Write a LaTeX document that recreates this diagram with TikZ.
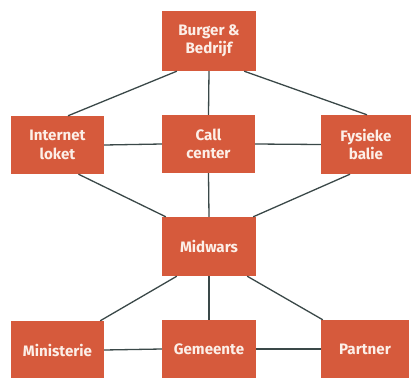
\documentclass[tikz,border=0pt]{standalone}
\usepackage{fontspec}
\setmainfont{Fira Sans}
\usetikzlibrary{calc}
\definecolor{boxred}{HTML}{D65A3C}
\definecolor{boxtext}{HTML}{FCEFE8}
\definecolor{linec}{HTML}{3A4848}
\begin{document}
\begin{tikzpicture}[x=1bp,y=-1bp,
  box/.style={rectangle, fill=boxred, draw=none, text=boxtext, align=center,
    font=\fontsize{15.2}{18.5}\selectfont\bfseries, inner sep=0pt},
  conn/.style={draw=linec, line width=1.3bp}]
\useasboundingbox (0,0) rectangle (411,378);
\begin{scope}
\clip (0,0) rectangle (411,378);
\node[box, minimum width=94bp, minimum height=60bp] (burger) at (209,41) {Burger \&\\Bedrijf};
\node[box, minimum width=93bp, minimum height=58bp] (internet) at (57.5,145) {Internet\\loket};
\node[box, minimum width=93bp, minimum height=58bp] (call) at (208.5,144) {Call\\center};
\node[box, minimum width=90bp, minimum height=59bp] (fysieke) at (366,144.5) {Fysieke\\balie};
\node[box, minimum width=94bp, minimum height=59bp] (midwars) at (209,246.5) {Midwars};
\node[box, minimum width=93bp, minimum height=58bp] (ministerie) at (57.5,350) {Ministerie};
\node[box, minimum width=94bp, minimum height=58bp] (gemeente) at (209,349) {Gemeente};
\node[box, minimum width=88bp, minimum height=58bp] (partner) at (365,349) {Partner};
\draw[conn] ($(burger.south west)+(15,0)$) -- ($(internet.north)+(10.5,0)$);
\draw[conn] ($(burger.south east)+(-12,0)$) -- ($(fysieke.north)+(1,0)$);
\draw[conn] (burger.south) -- (call.north);
\draw[conn] (internet.east) -- (call.west);
\draw[conn] (call.east) -- (fysieke.west);
\draw[conn] ($(internet.south)+(21,0)$) -- ($(midwars.north west)+(4,0)$);
\draw[conn] ($(fysieke.south)+(-16,0)$) -- ($(midwars.north east)+(-3,0)$);
\draw[conn] (call.south) -- (midwars.north);
\draw[conn] ($(midwars.south west)+(15,0)$) -- ($(ministerie.north east)+(-4,0)$);
\draw[conn] ($(midwars.south east)+(-9,0)$) -- ($(partner.north west)+(2,0)$);
\draw[conn] (midwars.south) -- (gemeente.north);
\draw[conn] (ministerie.east) -- (gemeente.west);
\draw[conn] (gemeente.east) -- (partner.west);
\end{scope}
\end{tikzpicture}
\end{document}
